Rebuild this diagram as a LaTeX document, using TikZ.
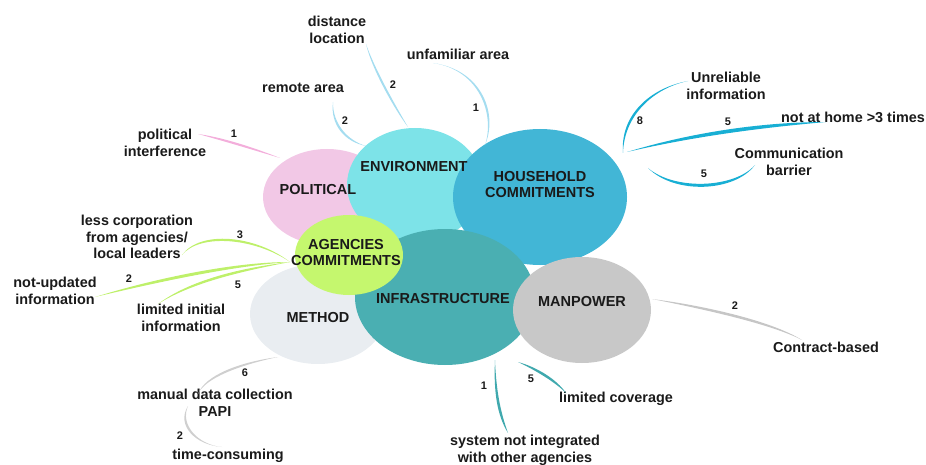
\documentclass[tikz,border=0pt]{standalone}
\usepackage{fontspec}
\setmainfont{Liberation Sans}
\usetikzlibrary{calc}
\definecolor{polF}{HTML}{F2C8E6}
\definecolor{envF}{HTML}{7DE3E8}
\definecolor{houF}{HTML}{42B6D6}
\definecolor{metF}{HTML}{E9EDF1}
\definecolor{infF}{HTML}{4AAFB2}
\definecolor{manF}{HTML}{C8C8C8}
\definecolor{ageF}{HTML}{C5F76E}
\definecolor{polL}{HTML}{F3AEDB}
\definecolor{envL}{HTML}{A5DDF0}
\definecolor{houL}{HTML}{18AFD4}
\definecolor{ageL}{HTML}{BEF06A}
\definecolor{metL}{HTML}{CFCFCF}
\definecolor{infL}{HTML}{40A9AE}
\definecolor{manL}{HTML}{C6C6C6}
\definecolor{txt}{HTML}{1A1A1A}
\newcommand\lensbranch[6]{\fill[#1] (#2) .. controls (#3) and (#4) .. (#5) .. controls ($(#4)+(#6)$) and ($(#3)+(#6)$) .. (#2) -- cycle;}
\begin{document}
\begin{tikzpicture}[x=1pt,y=-1pt,
  cat/.style={font=\fontsize{14.5}{16}\selectfont\bfseries, text=txt, align=center, inner sep=0pt},
  lbl/.style={font=\fontsize{14.4}{16.7}\selectfont\bfseries, text=txt, align=center, inner sep=0pt},
  num/.style={font=\fontsize{11}{12}\selectfont\bfseries, text=txt, inner sep=0pt}]
\useasboundingbox (0,0) rectangle (926,465);
% ellipses
\fill[polF] (327,197) ellipse [x radius=64, y radius=48];
\fill[envF] (415,185) ellipse [x radius=68, y radius=57];
\fill[houF] (540,197) ellipse [x radius=87, y radius=68];
\fill[metF] (318,314) ellipse [x radius=68, y radius=50];
\fill[infF] (445,297) ellipse [x radius=90, y radius=68];
\fill[manF] (582,310) ellipse [x radius=69, y radius=53];
\fill[ageF] (349,255) ellipse [x radius=54, y radius=40];
% category labels
\node[cat] (pol) at (318,190) {POLITICAL};
\node[cat] (env) at (414,167) {ENVIRONMENT};
\node[cat] (hou) at (540,185) {HOUSEHOLD\\COMMITMENTS};
\node[cat] (age) at (346,253) {AGENCIES\\COMMITMENTS};
\node[cat] (inf) at (443,299) {INFRASTRUCTURE};
\node[cat] (met) at (318,318) {METHOD};
\node[cat] (man) at (582,302) {MANPOWER};
% leaf labels
\node[lbl] (l1) at (165,143) {political\\interference};
\node[lbl] (l2) at (303,88) {remote area};
\node[lbl] (l3) at (337,30) {distance\\location};
\node[lbl] (l4) at (458,54) {unfamiliar area};
\node[lbl] (l5) at (726,86) {Unreliable\\information};
\node[lbl] (l6) at (853,117) {not at home >3 times};
\node[lbl] (l7) at (789,162) {Communication\\barrier};
\node[lbl] (l8) at (137,237) {less corporation\\from agencies/\\local leaders};
\node[lbl] (l9) at (55,291) {not-updated\\information};
\node[lbl] (l10) at (181,318) {limited initial\\information};
\node[lbl] (l11) at (215,403) {manual data collection\\PAPI};
\node[lbl] (l12) at (228,456) {time-consuming};
\node[lbl] (l13) at (826,347) {Contract-based};
\node[lbl] (l14) at (525,450) {system not integrated\\with other agencies};
\node[lbl] (l15) at (616,399) {limited coverage};
% connector end points
\coordinate (p1) at (280,158); \coordinate (q1) at (198,134);
\coordinate (p2) at (366,146); \coordinate (q2) at (333,102);
\coordinate (p3) at (408,127); \coordinate (q3) at (366,44);
\coordinate (p4) at (485,145); \coordinate (q4) at (433,63);
\coordinate (p5) at (623,153); \coordinate (q5) at (688,81);
\coordinate (p6) at (627,152); \coordinate (q6) at (826,122);
\coordinate (p7) at (648,168); \coordinate (q7) at (755,165);
\coordinate (p8) at (290,262); \coordinate (q8) at (182,255);
\coordinate (q9) at (95,297);
\coordinate (q10) at (158,304);
\coordinate (p11) at (278,357); \coordinate (q11) at (198,394);
\coordinate (p12) at (188,406); \coordinate (q12) at (222,447);
\coordinate (p13) at (652,299); \coordinate (q13) at (802,340);
\coordinate (p14) at (495,360); \coordinate (q14) at (508,433);
\coordinate (p15) at (518,362); \coordinate (q15) at (566,393);
% connectors
\lensbranch{polL}{p1}{250,146}{220,137}{q1}{0,3}
\lensbranch{envL}{p2}{345,142}{330,125}{q2}{2.5,-1.5}
\lensbranch{envL}{p3}{395,110}{372,70}{q3}{3,0}
\lensbranch{envL}{p4}{495,115}{480,70}{q4}{3,0}
\lensbranch{houL}{p5}{620,115}{650,88}{q5}{4,0}
\lensbranch{houL}{p6}{700,130}{770,122}{q6}{0,5}
\lensbranch{houL}{p7}{675,195}{735,192}{q7}{0,-4}
\lensbranch{ageL}{p8}{255,235}{200,230}{q8}{0,3}
\lensbranch{ageL}{p8}{230,262}{150,280}{q9}{0,4}
\lensbranch{ageL}{p8}{240,268}{190,280}{q10}{0,3.5}
\lensbranch{metL}{p11}{240,362}{205,375}{q11}{0,3}
\lensbranch{metL}{p12}{176,425}{195,445}{q12}{3.5,0}
\lensbranch{manL}{p13}{700,305}{770,320}{q13}{0,3.5}
\lensbranch{infL}{p14}{493,400}{500,420}{q14}{3.5,0}
\lensbranch{infL}{p15}{535,370}{555,382}{q15}{1.5,-3}
% numbers
\node[num] at (234,134) {1};
\node[num] at (345,121) {2};
\node[num] at (393,85) {2};
\node[num] at (476,108) {1};
\node[num] at (640,121) {8};
\node[num] at (728,122) {5};
\node[num] at (704,174) {5};
\node[num] at (240,235) {3};
\node[num] at (129,279) {2};
\node[num] at (238,285) {5};
\node[num] at (245,373) {6};
\node[num] at (180,436) {2};
\node[num] at (735,306) {2};
\node[num] at (484,386) {1};
\node[num] at (531,379) {5};
\end{tikzpicture}
\end{document}
